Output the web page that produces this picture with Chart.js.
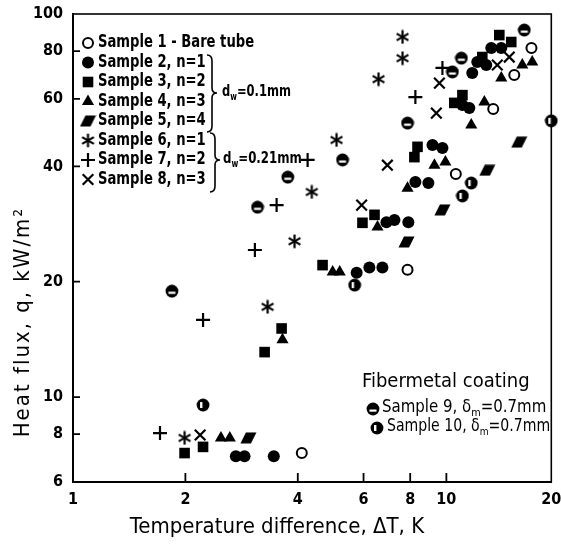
<!DOCTYPE html>
<html>
<head>
<meta charset="utf-8">
<script src="https://cdn.jsdelivr.net/npm/chart.js"></script>
<style>
    html, body { margin: 0; padding: 0; background: #fff; }
    canvas { display: block; }
</style>
</head>
<body>
<canvas id="graficoFluxo" width="561" height="545"></canvas>
<script>
const FONTE = '"DejaVu Sans Condensed", "DejaVu Sans", sans-serif';

// eixos (o ultimo tick fica no fim do eixo, rotulado "20")
const xTicks = [1, 2, 4, 6, 8, 10, 19.1];
const xTickLabels = ['1', '2', '4', '6', '8', '10', '20'];
const yTicks = [6, 8, 10, 20, 40, 60, 80, 100];

// [ΔT (K), q (kW/m²)]
const sample1 = [[4.10, 7.14], [7.87, 21.5], [10.6, 38.2], [13.35, 56.5], [15.2, 69.3], [16.9, 81.5]];
const sample2 = [[2.73, 7.0], [2.88, 7.0], [3.45, 7.0], [5.75, 21.1], [6.22, 21.8], [6.74, 21.8], [6.91, 28.6],
    [7.26, 29.0], [7.91, 28.6], [8.26, 36.4], [8.95, 36.2], [9.18, 45.5], [9.76, 44.7], [11.04, 57.9],
    [11.52, 56.8], [11.73, 70.1], [12.10, 74.9], [12.79, 73.6], [13.19, 81.5], [14.03, 81.5]];
const sample3 = [[1.99, 7.14], [2.23, 7.41], [3.26, 13.1], [3.62, 15.1], [4.66, 22.1], [5.96, 28.5], [6.42, 29.9],
    [8.21, 42.3], [8.37, 45.0], [10.5, 58.6], [11.04, 61.4], [12.48, 77.2], [13.86, 88.1], [14.92, 84.5]];
const sample4 = [[2.49, 7.82], [2.63, 7.82], [3.64, 14.1], [4.96, 21.2], [5.18, 21.2], [6.54, 27.8], [7.87, 35.1],
    [9.29, 40.3], [9.94, 41.1], [11.66, 51.3], [12.64, 58.9], [14.03, 68.1], [15.97, 73.6], [16.98, 74.9]];
const sample5 = [[2.95, 7.82], [7.82, 25.4], [9.76, 30.8], [12.87, 39.1], [15.67, 46.3]];
const sample6 = [[1.99, 7.82], [3.32, 17.2], [3.92, 25.5], [4.36, 34.3], [5.08, 46.9], [6.58, 67.6], [7.63, 76.7], [7.63, 87.1]];
const sample7 = [[1.71, 8.05], [2.23, 15.9], [3.07, 24.2], [3.51, 31.7], [4.25, 41.6], [8.26, 60.7], [9.76, 72.3]];
const sample8 = [[2.19, 7.96], [5.93, 31.7], [6.95, 40.3], [9.40, 55.1], [9.58, 66.0], [13.69, 73.6], [14.74, 77.2]];
const sample9 = [[1.84, 18.9], [3.12, 31.3], [3.76, 37.5], [5.27, 41.6], [7.87, 51.9], [10.38, 70.6], [10.97, 76.7], [16.17, 90.8]];
const sample10 = [[2.23, 9.53], [5.68, 19.6], [11.04, 33.5], [11.66, 36.2], [19.1, 52.6]];

const rotulosAmostras = ['Sample 1 - Bare tube', 'Sample 2, n=1', 'Sample 3, n=2', 'Sample 4, n=3',
    'Sample 5, n=4', 'Sample 6, n=1', 'Sample 7, n=2', 'Sample 8, n=3', 'Sample 9', 'Sample 10'];

function marca(largura, altura, desenhar) {
    const c = document.createElement('canvas');
    c.width = largura;
    c.height = altura;
    const ctx = c.getContext('2d');
    ctx.fillStyle = '#000';
    ctx.strokeStyle = '#000';
    desenhar(ctx);
    return c;
}

const asterisco = marca(15, 15, ctx => {
    ctx.lineWidth = 2.2;
    [90, 30, 150].forEach(grau => {
        const r = grau * Math.PI / 180;
        ctx.beginPath();
        ctx.moveTo(7.5 - Math.cos(r) * 6.8, 7.5 - Math.sin(r) * 6.8);
        ctx.lineTo(7.5 + Math.cos(r) * 6.8, 7.5 + Math.sin(r) * 6.8);
        ctx.stroke();
    });
});

const paralelogramo = marca(17, 12, ctx => {
    ctx.beginPath();
    ctx.moveTo(6, 0.5);
    ctx.lineTo(16.5, 0.5);
    ctx.lineTo(11, 11.5);
    ctx.lineTo(0.5, 11.5);
    ctx.closePath();
    ctx.fill();
});

const discoFaixa = marca(14, 14, ctx => {
    ctx.beginPath();
    ctx.arc(7, 7, 6.4, 0, Math.PI * 2);
    ctx.fill();
    ctx.fillStyle = '#fff';
    ctx.fillRect(3.5, 7.5, 7, 2.2);
});

const discoFenda = marca(14, 14, ctx => {
    ctx.beginPath();
    ctx.arc(7, 7, 6.4, 0, Math.PI * 2);
    ctx.fill();
    ctx.fillStyle = '#fff';
    ctx.fillRect(4, 4, 2.4, 6);
});

const estilos = [
    { pointStyle: 'circle', pointRadius: 5, pointBorderWidth: 2, pointBackgroundColor: '#fff' },
    { pointStyle: 'circle', pointRadius: 6, pointBorderWidth: 0, pointBackgroundColor: '#000' },
    { pointStyle: 'rect', pointRadius: 7.5, pointBorderWidth: 0, pointBackgroundColor: '#000' },
    { pointStyle: 'triangle', pointRadius: 7, pointBorderWidth: 0, pointBackgroundColor: '#000' },
    { pointStyle: paralelogramo, pointRadius: 6 },
    { pointStyle: asterisco, pointRadius: 6 },
    { pointStyle: 'cross', pointRadius: 7, pointBorderWidth: 2.2, pointBackgroundColor: '#000' },
    { pointStyle: 'crossRot', pointRadius: 7.5, pointBorderWidth: 2.2, pointBackgroundColor: '#000' },
    { pointStyle: discoFaixa, pointRadius: 6 },
    { pointStyle: discoFenda, pointRadius: 6 },
];

const series = [sample1, sample2, sample3, sample4, sample5, sample6, sample7, sample8, sample9, sample10];

class GraficoFluxoCalor {
    constructor(canvasId) {
        this.canvas = document.getElementById(canvasId);
    }

    marcador(ctx, estilo, x, y) {
        ctx.save();
        ctx.fillStyle = estilo.pointBackgroundColor || '#000';
        ctx.strokeStyle = '#000';
        ctx.lineWidth = estilo.pointBorderWidth || 0;
        Chart.helpers.drawPoint(ctx, {
            pointStyle: estilo.pointStyle,
            radius: estilo.pointRadius,
            borderWidth: estilo.pointBorderWidth || 0,
            rotation: 0,
        }, x, y);
        ctx.restore();
    }

    // texto comprimido na horizontal, imitando a letra estreita do original
    estreito(ctx, texto, x, y, escala) {
        ctx.save();
        ctx.translate(x, y);
        ctx.scale(escala, 1);
        ctx.fillText(texto, 0, 0);
        ctx.restore();
        return ctx.measureText(texto).width * escala;
    }

    textoIndice(ctx, partes, x, y, tamanho, peso, escala) {
        let cx = x;
        partes.forEach(([texto, indice]) => {
            ctx.font = `${peso} ${indice ? Math.round(tamanho * 0.62) : tamanho}px ${FONTE}`;
            cx += this.estreito(ctx, texto, cx, indice ? y + tamanho * 0.32 : y, escala);
        });
    }

    chave(ctx, x, y1, y2, ponta) {
        const w = 5;
        ctx.beginPath();
        ctx.moveTo(x, y1);
        ctx.quadraticCurveTo(x + w, y1, x + w, y1 + 6);
        ctx.lineTo(x + w, ponta - 5);
        ctx.quadraticCurveTo(x + w, ponta, x + w * 2, ponta);
        ctx.quadraticCurveTo(x + w, ponta, x + w, ponta + 5);
        ctx.lineTo(x + w, y2 - 6);
        ctx.quadraticCurveTo(x + w, y2, x, y2);
        ctx.stroke();
    }

    pluginMoldura() {
        return {
            id: 'moldura',
            beforeDatasetsDraw: chart => {
                const { ctx, chartArea: a, scales: { x, y } } = chart;
                ctx.save();
                ctx.strokeStyle = '#000';
                ctx.lineWidth = 1.6;
                ctx.strokeRect(a.left, a.top, a.right - a.left, a.bottom - a.top);
                ctx.lineWidth = 1.8;
                ctx.beginPath();
                xTicks.slice(1, -1).forEach(v => {
                    const px = x.getPixelForValue(v);
                    ctx.moveTo(px, a.bottom);
                    ctx.lineTo(px, a.bottom - 9);
                });
                yTicks.slice(1, -1).forEach(v => {
                    const py = y.getPixelForValue(v);
                    ctx.moveTo(a.left, py);
                    ctx.lineTo(a.left + 7, py);
                });
                ctx.stroke();
                ctx.restore();
            },
            afterDraw: chart => {
                const ctx = chart.ctx;
                ctx.save();
                ctx.fillStyle = '#000';
                ctx.strokeStyle = '#000';
                ctx.textBaseline = 'middle';

                // titulos dos eixos
                ctx.font = `22px ${FONTE}`;
                ctx.textAlign = 'center';
                ctx.fillText('Temperature difference, \u0394T, K', 277, 527);
                ctx.save();
                ctx.translate(23, 322);
                ctx.rotate(-Math.PI / 2);
                ctx.letterSpacing = '2px';
                ctx.fillText('Heat flux, q, kW/m\u00b2', 0, 0);
                ctx.restore();

                // legenda das amostras 1-8
                ctx.textAlign = 'left';
                for (let i = 0; i < 8; i++) {
                    const ly = 43 + i * 19.5;
                    this.marcador(ctx, estilos[i], 88, ly);
                    ctx.font = `bold 17px ${FONTE}`;
                    this.estreito(ctx, rotulosAmostras[i], 98, ly, 0.86);
                }
                ctx.lineWidth = 1.6;
                this.chave(ctx, 207, 55, 132, 93);
                this.chave(ctx, 210, 133, 192, 160);
                this.textoIndice(ctx, [['d', false], ['w', true], ['=0.1mm', false]], 222, 92, 16, 'bold', 0.8);
                this.textoIndice(ctx, [['d', false], ['w', true], ['=0.21mm', false]], 223, 159, 16, 'bold', 0.82);

                // legenda do revestimento
                ctx.font = `20px ${FONTE}`;
                ctx.fillText('Fibermetal coating', 362, 382);
                this.marcador(ctx, estilos[8], 373, 409);
                this.textoIndice(ctx, [[rotulosAmostras[8] + ', \u03b4', false], ['m', true], ['=0.7mm', false]], 382, 408, 17, 'normal', 0.98);
                this.marcador(ctx, estilos[9], 377, 428);
                this.textoIndice(ctx, [[rotulosAmostras[9] + ', \u03b4', false], ['m', true], ['=0.7mm', false]], 387, 427, 17, 'normal', 0.92);
                ctx.restore();
            },
        };
    }

    iniciar() {
        const fonteTicks = { family: FONTE, size: 16, weight: 'bold' };
        new Chart(this.canvas, {
            type: 'scatter',
            data: {
                datasets: series.map((dados, i) => ({
                    label: rotulosAmostras[i],
                    data: dados,
                    borderColor: '#000',
                    backgroundColor: '#000',
                    clip: false,
                    ...estilos[i],
                })),
            },
            options: {
                responsive: false,
                animation: false,
                events: [],
                layout: { padding: { top: 14, right: 9, left: 0, bottom: 0 } },
                plugins: { legend: { display: false }, tooltip: { enabled: false } },
                scales: {
                    x: {
                        type: 'logarithmic',
                        min: 1,
                        max: 19.1,
                        afterBuildTicks: s => { s.ticks = xTicks.map(v => ({ value: v })); },
                        afterFit: s => {
                            s.height = 63;
                            s.paddingLeft = 0;
                            s.paddingRight = 0;
                        },
                        ticks: {
                            autoSkip: false,
                            maxRotation: 0,
                            padding: 8,
                            color: '#000',
                            font: fonteTicks,
                            callback: (valor, indice) => xTickLabels[indice],
                        },
                        grid: { display: false, drawTicks: false },
                        border: { color: '#000', width: 2 },
                    },
                    y: {
                        type: 'logarithmic',
                        min: 6,
                        max: 100,
                        afterBuildTicks: s => { s.ticks = yTicks.map(v => ({ value: v })); },
                        afterFit: s => {
                            s.width = 73;
                            s.paddingTop = 0;
                            s.paddingBottom = 0;
                        },
                        ticks: {
                            autoSkip: false,
                            padding: 10,
                            color: '#000',
                            font: fonteTicks,
                            callback: valor => String(valor),
                        },
                        grid: { display: false, drawTicks: false },
                        border: { color: '#000', width: 2 },
                    },
                },
            },
            plugins: [this.pluginMoldura()],
        });
    }
}

new GraficoFluxoCalor('graficoFluxo').iniciar();
</script>
</body>
</html>
